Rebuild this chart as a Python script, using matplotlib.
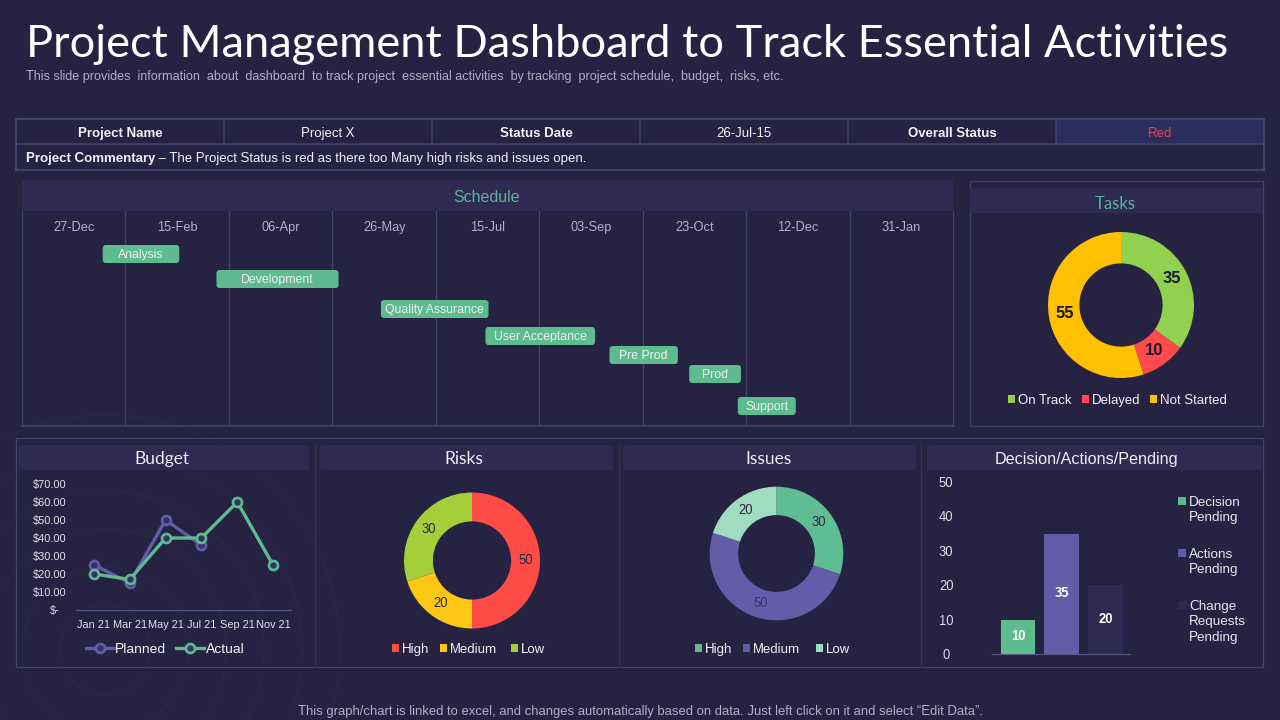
"""Project management dashboard slide, drawn on a 1280x720 pixel canvas."""

import matplotlib

matplotlib.use("Agg")
import matplotlib.pyplot as plt
from matplotlib.lines import Line2D
from matplotlib.patches import Circle, FancyBboxPatch, Rectangle

plt.rcParams["text.hinting"] = "native"

BG = "#262342"
HEADER = "#2e2a52"
BORDER = "#45426c"
FAINT = "#34315a"
RING = "#2b2849"
FG = "#f2f2f6"
MUTED = "#b3b1c4"
GREEN = "#5dbb8d"
PURPLE = "#635ca9"
TEAL = "#5fb49b"
MARKER_FILL = "#35316a"
SANS = ["Liberation Sans", "DejaVu Sans"]
TITLE_FONT = ["Lato", "DejaVu Sans"]

W, H = 1280, 720

# project table
table_row = ["Project Name", "Project X", "Status Date", "26-Jul-15", "Overall Status", "Red"]
commentary = "The Project Status is red as there too Many high risks and issues open."

# schedule, in days from the first column
schedule_ticks = ["27-Dec", "15-Feb", "06-Apr", "26-May", "15-Jul", "03-Sep", "23-Oct", "12-Dec", "31-Jan"]
task_names = ["Analysis", "Development", "Quality Assurance", "User Acceptance", "Pre Prod", "Prod", "Support"]
task_start = [39, 94, 173.5, 224, 284, 322.5, 346]
task_days = [37, 59, 52, 53, 33, 25, 28]
task_row = [254, 279, 309, 336, 355, 374, 406]

# donuts
tasks_labels = ["On Track", "Delayed", "Not Started"]
tasks_values = [35, 10, 55]
tasks_colors = ["#92d050", "#ff4b4b", "#ffc000"]
risks_labels = ["High", "Medium", "Low"]
risks_values = [50, 20, 30]
risks_colors = ["#ff4b45", "#ffc715", "#a5cf3a"]
issues_labels = ["High", "Medium", "Low"]
issues_values = [30, 50, 20]
issues_colors = ["#5fbd94", "#635ca9", "#a0dcc0"]

# budget
budget_months = ["Jan 21", "Mar 21", "May 21", "Jul 21", "Sep 21", "Nov 21"]
budget_planned = [25, 15, 50, 36, None, None]
budget_actual = [20, 17, 40, 40, 60, 25]
budget_ticks = [0, 10, 20, 30, 40, 50, 60, 70]

# decisions
decision_labels = ["Decision\nPending", "Actions\nPending", "Change\nRequests\nPending"]
decision_values = [10, 35, 20]
decision_colors = [GREEN, PURPLE, HEADER]


def px_axes(fig, x0, y0, x1, y1):
    ax = fig.add_axes([x0 / W, 1 - y1 / H, (x1 - x0) / W, (y1 - y0) / H])
    ax.patch.set_alpha(0)
    for spine in ax.spines.values():
        spine.set_visible(False)
    return ax


def rect(ax, x0, y0, x1, y1, fc="none", ec="none", lw=0.0, z=1):
    ax.add_patch(Rectangle((x0, y0), x1 - x0, y1 - y0, facecolor=fc, edgecolor=ec, linewidth=lw, zorder=z))


def label(ax, x, y, s, size, color=FG, ha="center", weight="normal", family=None):
    # y is the middle of the capitals; half the cap height is about size/2 pixels
    return ax.text(x, y + size * 0.5, s, fontsize=size, color=color, ha=ha, va="baseline", fontweight=weight,
                   family=family or SANS, zorder=5)


def draw_frame(bg):
    for r in range(45, 260, 38):
        bg.add_patch(Circle((105, 650), r, facecolor="none", edgecolor=RING, linewidth=0.7, zorder=0))

    label(bg, 26, 41, "Project Management Dashboard to Track Essential Activities", 32.55, "white", "left",
          family=TITLE_FONT)
    label(bg, 26, 75.5, "This slide provides  information  about  dashboard  to track project  essential "
          "activities  by tracking  project schedule,  budget,  risks, etc.", 9.13, MUTED, "left")
    label(bg, 640, 710, "This graph/chart is linked to excel, and changes automatically based on data. "
          "Just left click on it and select \u201cEdit Data\u201d.", 9.48, MUTED)


def draw_table(bg):
    cols = [16, 224, 432, 640, 848, 1056, 1264]
    rect(bg, cols[5], 119, cols[6], 144, fc="#2a2e5c")
    rect(bg, 16, 119, 1264, 170, ec=BORDER, lw=1.4, z=2)
    bg.plot([16, 1264], [144, 144], color=BORDER, lw=1.1, zorder=2)
    for i, text in enumerate(table_row):
        bg.plot([cols[i + 1]] * 2, [119, 144], color=BORDER, lw=1.1, zorder=2)
        bold = i % 2 == 0
        color = "#e8434f" if text == "Red" else FG
        label(bg, (cols[i] + cols[i + 1]) / 2, 132, text, 9.55, color, weight="bold" if bold else "normal")
    t = label(bg, 26, 157.5, "Project Commentary", 9.55, FG, "left", "bold")
    bg.annotate(" \u2013 " + commentary, xy=(1, 0), xycoords=t, va="bottom", fontsize=9.5, color=FG, family=SANS)


def draw_schedule(fig, bg):
    rect(bg, 22, 180, 953, 211, fc=HEADER)
    label(bg, 487, 196, "Schedule", 11.5, TEAL)

    ax = px_axes(fig, 22, 211, 953, 426)
    ax.set_xlim(0, 450)
    ax.set_ylim(426, 211)
    ax.set_yticks([])
    ax.set_xticks([])
    for i, name in enumerate(schedule_ticks):
        ax.axvline(i * 50, color=BORDER, lw=0.9, zorder=1)
        ax.text(i * 50 + 25, 231, name, color=MUTED, fontsize=9.3, ha="center", va="baseline", family=SANS)
    ax.axvline(450, color=BORDER, lw=0.9, zorder=1, clip_on=False)
    ax.axhline(426, color=BORDER, lw=1.3, zorder=1, clip_on=False)

    px_per_day = 931 / 450
    for name, start, days, y in zip(task_names, task_start, task_days, task_row):
        ax.add_patch(FancyBboxPatch(
            (start, y - 9), days, 18,
            boxstyle="round,pad=0,rounding_size=1.5", mutation_aspect=px_per_day,
            facecolor=GREEN, edgecolor="none", zorder=3,
        ))
        ax.text(start + days / 2, y + 4.4, name, color=FG, fontsize=8.8, ha="center", va="baseline",
                family=SANS, zorder=4)


def draw_donut(fig, cx, cy, r, hole, values, colors, text_size, text_colors, weight="normal"):
    ax = px_axes(fig, cx - r, cy - r, cx + r, cy + r)
    _, _, autotexts = ax.pie(
        values, colors=colors, startangle=90, counterclock=False, radius=1,
        wedgeprops=dict(width=1 - hole, linewidth=0),
        autopct=lambda p: f"{p:.0f}", pctdistance=(1 + hole) / 2,
    )
    ax.set_xlim(-1, 1)
    ax.set_ylim(-1, 1)
    for t, c in zip(autotexts, text_colors):
        t.set(fontsize=text_size, color=c, fontweight=weight, family=SANS)


def square_legend(bg, items, y, size=9.5):
    for x, name, color in items:
        rect(bg, x, y - 4, x + 7, y + 4, fc=color, z=3)
        label(bg, x + 10, y, name, size, FG, "left")


def draw_tasks(fig, bg):
    rect(bg, 969.5, 180.5, 1263, 426, ec=BORDER, lw=0.9)
    rect(bg, 970, 188, 1262.5, 213, fc=HEADER)
    label(bg, 1115, 203, "Tasks", 12, TEAL, family=TITLE_FONT)
    draw_donut(fig, 1121, 305, 73, 0.57, tasks_values, tasks_colors, 12, ["#1d1b2e"] * 3, "bold")
    xs = [1008, 1082, 1150]
    square_legend(bg, list(zip(xs, tasks_labels, tasks_colors)), 399)


def draw_budget(fig, bg):
    ax = px_axes(fig, 76, 484, 291, 610)
    ax.set_xlim(-0.5, 5.5)
    ax.set_ylim(0, 70)
    xs = list(range(len(budget_months)))
    planned = [float("nan") if v is None else v for v in budget_planned]
    marker = dict(marker="o", ms=6.5, mew=1.9, mfc=MARKER_FILL)
    ax.plot(xs, planned, color=PURPLE, lw=2.4, clip_on=False, **marker)
    ax.plot(xs, budget_actual, color=GREEN, lw=2.4, clip_on=False, **marker)

    ax.set_xticks(xs, budget_months)
    ax.set_yticks(budget_ticks, ["$-"] + [f"${v:.2f}" for v in budget_ticks[1:]])
    ax.spines["bottom"].set_visible(True)
    ax.spines["bottom"].set_color("#5a5780")
    ax.tick_params(length=0, labelsize=7.9, labelcolor="#e2e2ea")
    ax.tick_params(axis="x", pad=7)
    ax.tick_params(axis="y", pad=7)
    ax.yaxis.get_major_ticks()[0].set_pad(12)
    for t in ax.get_xticklabels() + ax.get_yticklabels():
        t.set_family(SANS)

    for x0, color in [(86, PURPLE), (176, GREEN)]:
        bg.add_line(Line2D([x0, x0 + 14, x0 + 28], [648, 648, 648], color=color, lw=2.4, marker="o", ms=6.5,
                           mew=1.9, mfc=MARKER_FILL, markevery=[1], zorder=4))
    label(bg, 115, 648, "Planned", 10, FG, "left")
    label(bg, 206, 648, "Actual", 10, FG, "left")


def draw_decisions(fig, bg):
    ax = px_axes(fig, 992, 482, 1130, 654)
    ax.set_xlim(-0.595, 2.56)
    ax.set_ylim(0, 50)
    xs = list(range(len(decision_values)))
    bars = ax.bar(xs, decision_values, width=0.79, color=decision_colors)
    ax.bar_label(bars, label_type="center", color="white", fontsize=9.4, fontweight="bold", family=SANS)
    ax.set_xticks([])
    ax.set_yticks([0, 10, 20, 30, 40, 50])
    ax.spines["bottom"].set_visible(True)
    ax.spines["bottom"].set_color("#5a5780")
    ax.tick_params(length=0, labelsize=9.4, labelcolor="#e2e2ea", pad=33)
    for t in ax.get_yticklabels():
        t.set_family(SANS)
        t.set_ha("center")

    for text, color, y in zip(decision_labels, decision_colors, [501, 553, 605]):
        rect(bg, 1178, y - 4, 1186, y + 4, fc=color, z=3)
        for i, line in enumerate(text.split("\n")):
            label(bg, 1189, y + i * 15.5, line, 9.7, "#e8e8ee", "left")


def draw_bottom(fig, bg):
    rect(bg, 16, 437.5, 1263, 667, ec=BORDER, lw=0.9)
    for x in [314.5, 618.5, 921]:
        bg.plot([x, x], [445, 667], color=FAINT, lw=0.8, zorder=1)
    headers = [(19, 309, 162, "Budget", TITLE_FONT, 12.5), (320, 613, 464, "Risks", TITLE_FONT, 12.5),
               (623, 916, 769, "Issues", TITLE_FONT, 12.5),
               (927, 1262, 1086, "Decision/Actions/Pending", SANS, 11.6)]
    for x0, x1, xc, name, family, size in headers:
        bg.add_patch(FancyBboxPatch((x0, 445), x1 - x0, 25, boxstyle="round,pad=0,rounding_size=3",
                                    facecolor=HEADER, edgecolor="none", zorder=1))
        label(bg, xc, 458, name, size, FG, family=family)

    draw_budget(fig, bg)
    draw_donut(fig, 472, 560.5, 68, 0.575, risks_values, risks_colors, 9.4, ["#262342"] * 3)
    square_legend(bg, list(zip([392, 440, 511], risks_labels, risks_colors)), 648)
    draw_donut(fig, 776.5, 553.5, 66.8, 0.575, issues_values, issues_colors, 9.4,
               ["#262342", "#35316a", "#262342"])
    square_legend(bg, list(zip([695, 743, 816], issues_labels, issues_colors)), 648)
    draw_decisions(fig, bg)


def main():
    fig = plt.figure(figsize=(W / 100, H / 100), dpi=100, facecolor=BG)
    bg = fig.add_axes([0, 0, 1, 1])
    bg.set_xlim(0, W)
    bg.set_ylim(H, 0)
    bg.axis("off")

    draw_frame(bg)
    draw_table(bg)
    draw_schedule(fig, bg)
    draw_tasks(fig, bg)
    draw_bottom(fig, bg)

    fig.savefig("out.png", dpi=100, facecolor=BG)
    plt.close(fig)


if __name__ == "__main__":
    main()
